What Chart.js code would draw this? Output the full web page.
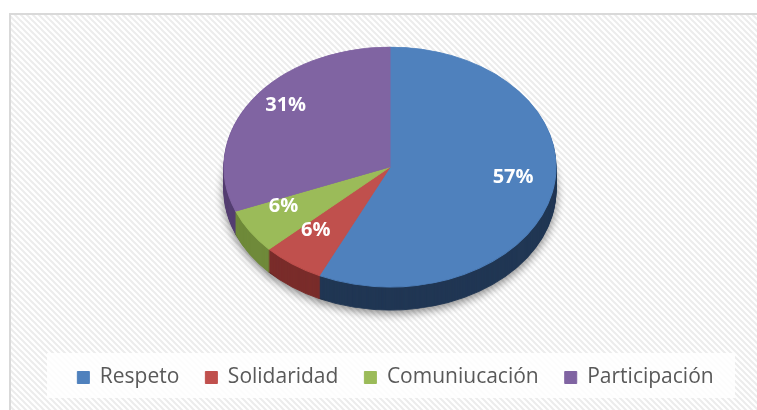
<!DOCTYPE html>
<html>
<head>
<meta charset="utf-8">
<script src="https://cdn.jsdelivr.net/npm/chart.js@4"></script>
<style>
  body { margin: 0; background: #fff; }
  canvas { display: block; }
</style>
</head>
<body>
<canvas id="pie" width="757" height="410"></canvas>
<script>
const categories = ['Respeto', 'Solidaridad', 'Comuniucación', 'Participación'];
const values = [57, 6, 6, 31];
const topColors = ['#4f81bd', '#c0504d', '#9bbb59', '#8064a2'];
const sideColors = ['#213754', '#7a2d2b', '#6f8a3a', '#553f72'];

// where the tilted pie sits on the page
const CX = 390, CY = 167, RX = 166, RY = 120, DEPTH = 23;

let ctx = document.getElementById('pie').getContext('2d');

function tiltTo(ctx, arc, dy) {
    ctx.translate(CX, CY + dy);
    ctx.scale(RX / arc.outerRadius, RY / arc.outerRadius);
    ctx.translate(-arc.x, -arc.y);
}

// hatched background, frame and legend panel
const backdrop = {
    id: 'backdrop',
    beforeDraw(chart) {
        const c = chart.ctx;
        const tile = document.createElement('canvas');
        tile.width = 6; tile.height = 6;
        const t = tile.getContext('2d');
        t.fillStyle = '#ffffff';
        t.fillRect(0, 0, 6, 6);
        t.strokeStyle = '#ececec';
        t.lineWidth = 2;
        t.beginPath();
        t.moveTo(-3, -3); t.lineTo(9, 9);
        t.moveTo(-3, 3); t.lineTo(3, 9);
        t.moveTo(3, -3); t.lineTo(9, 3);
        t.stroke();
        c.save();
        c.fillStyle = '#fff';
        c.fillRect(0, 0, chart.width, chart.height);
        c.fillStyle = c.createPattern(tile, 'repeat');
        c.fillRect(10, 14, chart.width, chart.height);
        c.strokeStyle = '#d9d9d9';
        c.lineWidth = 2;
        c.strokeRect(10, 14, chart.width + 10, chart.height + 10);
        c.fillStyle = 'rgba(255,255,255,0.85)';
        c.fillRect(47, 353, 688, 45);
        c.restore();
    }
};

// squash the library's pie into an ellipse and give it a rim
const tilt = {
    id: 'tilt',
    beforeDatasetsDraw(chart) {
        const c = chart.ctx;
        const arcs = chart.getDatasetMeta(0).data;
        for (let d = DEPTH; d >= 1; d--) {
            c.save();
            if (d === DEPTH) {
                c.shadowColor = 'rgba(0,0,0,0.45)';
                c.shadowBlur = 8;
                c.shadowOffsetY = 3;
            }
            tiltTo(c, arcs[0], d);
            arcs.forEach((arc, i) => {
                const o = arc.options;
                const bg = o.backgroundColor, bc = o.borderColor;
                o.backgroundColor = sideColors[i];
                o.borderColor = sideColors[i];
                arc.draw(c);
                o.backgroundColor = bg;
                o.borderColor = bc;
            });
            c.restore();
        }
        c.save();
        tiltTo(c, arcs[0], 0);
    },
    afterDatasetsDraw(chart) {
        const c = chart.ctx;
        c.restore();
        const arcs = chart.getDatasetMeta(0).data;
        c.save();
        c.fillStyle = '#ffffff';
        c.font = 'bold 20px "Open Sans"';
        c.textAlign = 'center';
        c.textBaseline = 'middle';
        arcs.forEach((arc, i) => {
            const mid = (arc.startAngle + arc.endAngle) / 2;
            const f = 0.76;
            // perspective: labels sit a little higher than the flat ellipse
            c.fillText(values[i] + '%', CX + RX * f * Math.cos(mid), CY - 10 + RY * f * Math.sin(mid));
        });
        c.restore();
    }
};

Chart.defaults.font.family = '"Open Sans", sans-serif';

let myChart = new Chart(ctx, {
    type: 'pie',
    data: {
        labels: categories,
        datasets: [{
            data: values,
            backgroundColor: topColors,
            borderColor: topColors,
            borderWidth: 1
        }]
    },
    options: {
        responsive: false,
        animation: false,
        events: [],
        devicePixelRatio: 1,
        layout: { padding: { top: 20, bottom: 12, left: 34 } },
        plugins: {
            tooltip: { enabled: false },
            legend: {
                position: 'bottom',
                labels: {
                    boxWidth: 12,
                    boxHeight: 12,
                    padding: 26,
                    color: '#595959',
                    font: { size: 21 }
                }
            }
        }
    },
    plugins: [backdrop, tilt]
});
</script>
</body>
</html>
